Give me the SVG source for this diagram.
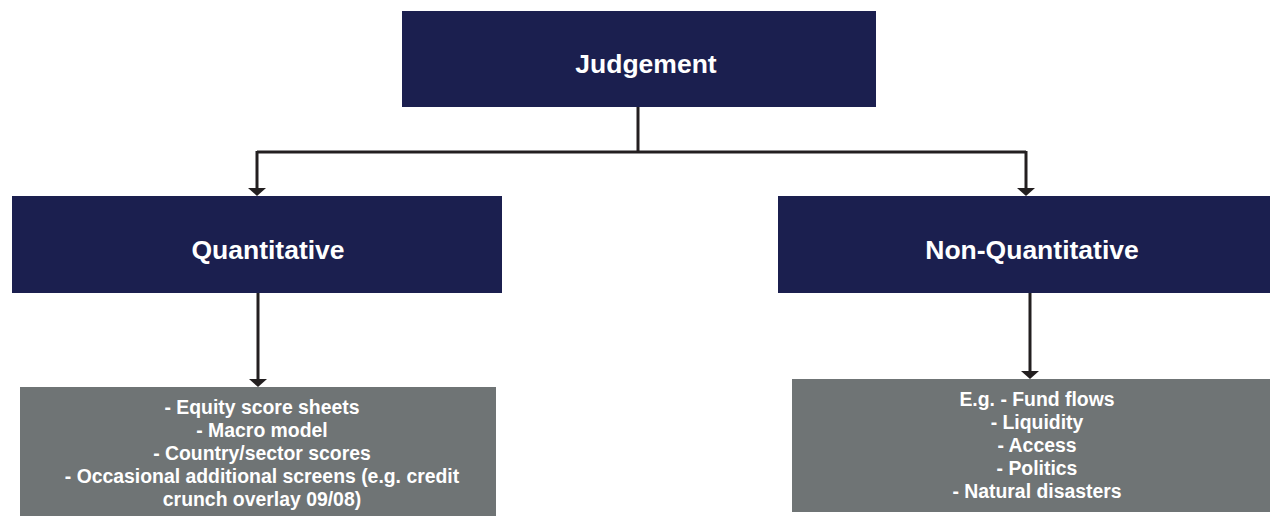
<svg xmlns="http://www.w3.org/2000/svg" width="1270" height="516" viewBox="0 0 1270 516">
  <style>
    .head { fill: #1b1f4f; }
    .body { fill: #6f7475; }
    .title { font-family: "Liberation Sans", Arial, sans-serif; font-weight: bold; font-size: 26.5px; fill: #ffffff; text-anchor: middle; }
    .item { font-family: "Liberation Sans", Arial, sans-serif; font-weight: bold; font-size: 19.4px; fill: #ffffff; text-anchor: middle; }
    .conn { fill: none; stroke: #231f20; stroke-width: 3; }
  </style>
  <defs>
    <marker id="arrow" viewBox="0 0 8 18" refX="5" refY="9" markerWidth="8" markerHeight="18" markerUnits="userSpaceOnUse" orient="auto">
      <path d="M0,0 L8,9 L0,18 Z" fill="#231f20"/>
    </marker>
  </defs>
  <rect width="1270" height="516" fill="#ffffff"/>

  <g id="connectors">
    <path class="conn" d="M638,107 L638,152"/>
    <path class="conn" d="M257,152 L1026,152"/>
    <path class="conn" d="M257,151 L257,193" marker-end="url(#arrow)"/>
    <path class="conn" d="M1026,151 L1026,193" marker-end="url(#arrow)"/>
    <path class="conn" d="M258,292 L258,384" marker-end="url(#arrow)"/>
    <path class="conn" d="M1030,292 L1030,376" marker-end="url(#arrow)"/>
  </g>

  <g id="judgement">
    <rect class="head" x="402" y="11" width="474" height="96"/>
    <text class="title" x="646" y="73">Judgement</text>
  </g>

  <g id="quantitative">
    <rect class="head" x="12" y="196" width="490" height="97"/>
    <text class="title" x="268" y="259">Quantitative</text>
  </g>

  <g id="non-quantitative">
    <rect class="head" x="778" y="196" width="510" height="97"/>
    <text class="title" x="1032" y="259">Non-Quantitative</text>
  </g>

  <g id="quantitative-items">
    <rect class="body" x="20" y="387" width="476" height="135"/>
    <text class="item" x="262" y="414">- Equity score sheets</text>
    <text class="item" x="262" y="437">- Macro model</text>
    <text class="item" x="262" y="460">- Country/sector scores</text>
    <text class="item" x="262" y="483">- Occasional additional screens (e.g. credit</text>
    <text class="item" x="262" y="506">crunch overlay 09/08)</text>
  </g>

  <g id="non-quantitative-items">
    <rect class="body" x="792" y="379" width="490" height="133"/>
    <text class="item" x="1037" y="406">E.g. - Fund flows</text>
    <text class="item" x="1037" y="429">- Liquidity</text>
    <text class="item" x="1037" y="452">- Access</text>
    <text class="item" x="1037" y="475">- Politics</text>
    <text class="item" x="1037" y="498">- Natural disasters</text>
  </g>
</svg>
